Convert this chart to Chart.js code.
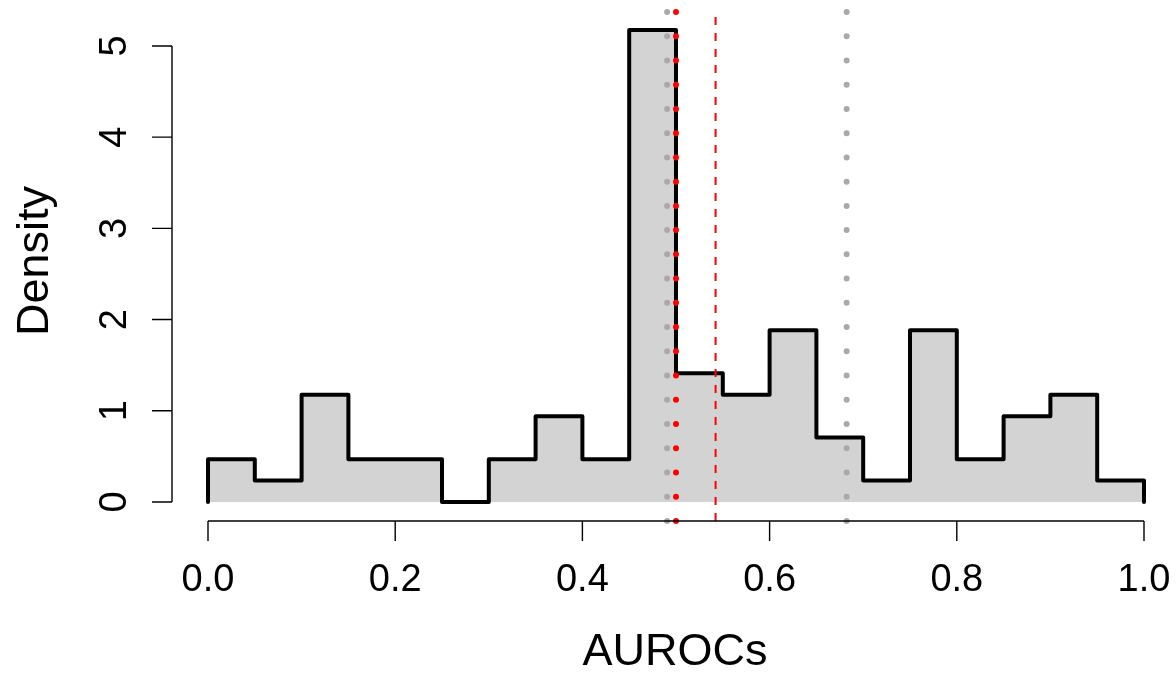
<!DOCTYPE html>
<html>
<head>
<meta charset="utf-8">
<script src="https://cdn.jsdelivr.net/npm/chart.js@4/dist/chart.umd.min.js"></script>
<style>
html,body{margin:0;padding:0;background:#fff;}
canvas{display:block;}
</style>
</head>
<body>
<canvas id="c" width="1176" height="675"></canvas>
<script>
// ---- data ----
const binStarts = [0.00,0.05,0.10,0.15,0.20,0.25,0.30,0.35,0.40,0.45,0.50,0.55,0.60,0.65,0.70,0.75,0.80,0.85,0.90,0.95];
const binEnd = 1.00;
const density = [0.47,0.235,1.176,0.47,0.47,0,0.47,0.941,0.47,5.176,1.412,1.176,1.882,0.706,0.235,1.882,0.47,0.941,1.176,0.235];
const grayDotted = [0.4905, 0.6823];
const redDotted = [0.5];
const redDashed = [0.5423];
const xTicks = [0, 0.2, 0.4, 0.6, 0.8, 1.0];
const xTickLabels = ['0.0','0.2','0.4','0.6','0.8','1.0'];
const yTicks = [0,1,2,3,4,5];
const yTickLabels = ['0','1','2','3','4','5'];
const xTitle = 'AUROCs';
const yTitle = 'Density';

const Y_MIN = -0.2083, Y_MAX = 5.383;
const X_MIN = -0.03846, X_MAX = 1.03419;

const histPts = [{x: binStarts[0], y: 0}];
binStarts.forEach((b, i) => histPts.push({x: b, y: density[i]}));
histPts.push({x: binEnd, y: 0});

function vline(v, color, width, dash, offset, cap) {
  return {
    data: [{x: v, y: Y_MIN}, {x: v, y: Y_MAX}],
    borderColor: color, borderWidth: width, borderDash: dash, borderDashOffset: offset || 0,
    borderCapStyle: cap || 'round', pointRadius: 0, fill: false, clip: false, order: 1, tension: 0
  };
}

const datasets = [
  {
    data: histPts, stepped: true, fill: 'origin',
    backgroundColor: '#D3D3D3', borderColor: '#000000', borderWidth: 4,
    borderJoinStyle: 'round', borderCapStyle: 'round', pointRadius: 0, order: 10
  }
];
grayDotted.forEach(v => datasets.push(vline(v, '#A9A9A9', 6, [0, 24.24])));
redDotted.forEach(v => datasets.push(vline(v, '#FF0000', 6, [0, 24.24])));
redDashed.forEach(v => datasets.push(vline(v, '#FF0000', 2, [8, 8], 0, 'butt')));

const FONT = '"Liberation Sans", Arial, Helvetica, sans-serif';

const axesPlugin = {
  id: 'rAxes',
  afterDraw(chart) {
    const ctx = chart.ctx;
    const xs = chart.scales.x, ys = chart.scales.y;
    const area = chart.chartArea;
    ctx.save();
    ctx.strokeStyle = '#000';
    ctx.fillStyle = '#000';
    ctx.lineWidth = 1.4;
    ctx.lineCap = 'butt';
    // x axis
    const xa = area.bottom;
    ctx.beginPath();
    ctx.moveTo(xs.getPixelForValue(xTicks[0]), xa);
    ctx.lineTo(xs.getPixelForValue(xTicks[xTicks.length-1]), xa);
    xTicks.forEach(t => {
      const p = xs.getPixelForValue(t);
      ctx.moveTo(p, xa); ctx.lineTo(p, xa + 20);
    });
    ctx.stroke();
    // y axis
    const ya = area.left;
    ctx.beginPath();
    ctx.moveTo(ya, ys.getPixelForValue(yTicks[0]));
    ctx.lineTo(ya, ys.getPixelForValue(yTicks[yTicks.length-1]));
    yTicks.forEach(t => {
      const p = ys.getPixelForValue(t);
      ctx.moveTo(ya, p); ctx.lineTo(ya - 20, p);
    });
    ctx.stroke();
    // tick labels
    ctx.font = '38px ' + FONT;
    ctx.textAlign = 'center';
    ctx.textBaseline = 'alphabetic';
    xTicks.forEach((t, i) => ctx.fillText(xTickLabels[i], xs.getPixelForValue(t), 591));
    yTicks.forEach((t, i) => {
      ctx.save();
      ctx.translate(126, ys.getPixelForValue(t));
      ctx.rotate(-Math.PI/2);
      ctx.fillText(yTickLabels[i], 0, 0);
      ctx.restore();
    });
    // titles
    ctx.font = '45px ' + FONT;
    ctx.fillText(xTitle, 675, 665);
    ctx.save();
    ctx.translate(48, 261);
    ctx.rotate(-Math.PI/2);
    ctx.fillText(yTitle, 0, 0);
    ctx.restore();
    ctx.restore();
  }
};

new Chart(document.getElementById('c'), {
  type: 'line',
  data: { datasets },
  options: {
    responsive: false,
    animation: false,
    layout: { padding: { left: 172, right: 0, top: 11, bottom: 154 } },
    plugins: { legend: { display: false }, tooltip: { enabled: false } },
    scales: {
      x: { type: 'linear', min: X_MIN, max: X_MAX, display: false },
      y: { type: 'linear', min: Y_MIN, max: Y_MAX, display: false }
    }
  },
  plugins: [axesPlugin]
});
</script>
</body>
</html>
